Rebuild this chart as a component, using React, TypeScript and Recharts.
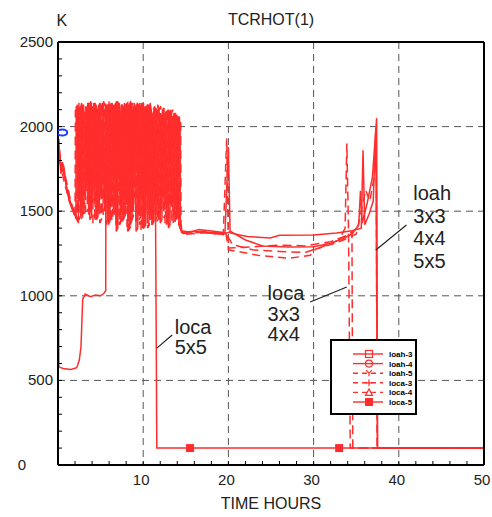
import {
  CartesianGrid,
  ComposedChart,
  Legend,
  Line,
  ReferenceDot,
  ReferenceLine,
  Scatter,
  XAxis,
  YAxis,
} from "recharts";

type Pt = [number, number];

const RED = "#ff2d2d";
const INK = "#222";
const FONT = "'Liberation Sans', Arial, sans-serif";

// time (hours), temperature (K)
const loah3: Pt[] = [
  [0, 1950], [0.2, 1830], [0.4, 1760], [0.8, 1700], [1.3, 1560], [1.9, 1480],
  [2.10, 1480], [2.14, 2120], [2.32, 2090], [2.36, 1600],
  [2.55, 1560], [2.59, 2100], [2.78, 2140], [2.82, 1470],
  [3.05, 1500], [3.09, 2060], [3.25, 1980], [3.29, 1700],
  [3.45, 1680], [3.49, 2140], [3.70, 2110], [3.74, 1450],
  [3.95, 1470], [3.99, 2080], [4.18, 2100], [4.22, 1620],
  [4.40, 1650], [4.44, 2130], [4.64, 2090], [4.68, 1500],
  [4.85, 1520], [4.89, 2110], [5.10, 2000], [5.14, 1750],
  [5.30, 1720], [5.34, 2150], [5.58, 2120], [5.62, 1420],
  [5.85, 1450], [5.89, 2090], [6.08, 2130], [6.12, 1580],
  [6.30, 1600], [6.34, 2140], [6.56, 2060], [6.60, 1480],
  [6.80, 1500], [6.84, 2100], [7.02, 2150], [7.06, 1700],
  [7.25, 1680], [7.29, 2050], [7.50, 2110], [7.54, 1440],
  [7.75, 1460], [7.79, 2140], [7.98, 2100], [8.02, 1600],
  [8.20, 1580], [8.24, 2120], [8.46, 2140], [8.50, 1420],
  [8.70, 1450], [8.74, 2080], [8.92, 2030], [8.96, 1750],
  [9.15, 1720], [9.19, 2130], [9.40, 2110], [9.44, 1480],
  [9.60, 1500], [9.64, 2100], [9.86, 2140], [9.90, 1400],
  [10.10, 1420], [10.14, 2070], [10.34, 2120], [10.38, 1620],
  [10.55, 1600], [10.59, 2120], [10.80, 2080], [10.84, 1450],
  [11.05, 1470], [11.09, 2050], [11.28, 2100], [11.32, 1550],
  [11.50, 1530], [11.54, 2100], [11.76, 2060], [11.80, 1480],
  [12.00, 1500], [12.04, 2080], [12.22, 2040], [12.26, 1600],
  [12.45, 1580], [12.49, 2060], [12.70, 2090], [12.74, 1420],
  [12.95, 1450], [12.99, 2100], [13.18, 2050], [13.22, 1550],
  [13.40, 1530], [13.44, 2040], [13.66, 2080], [13.70, 1480],
  [13.90, 1500], [13.94, 2070], [14.14, 2020], [14.18, 1420],
  [14.5, 1385], [15.5, 1375], [16.5, 1392], [17.5, 1386], [18.5, 1380], [19.6, 1372],
  [20.0, 1880], [20.2, 1372], [22.2, 1350], [24.9, 1342], [26, 1358], [30, 1360], [32.7, 1371],
  [34.5, 1385], [35.6, 1400], [35.8, 1860], [36.0, 1420], [36.5, 1480], [37.0, 1560],
  [37.3, 1990], [37.5, 100], [50, 100],
];

const loah4: Pt[] = [
  [0, 1950], [0.2, 1810], [0.35, 1720], [0.5, 1790], [0.7, 1760], [1.0, 1640], [1.5, 1540],
  [2.0, 1500], [2.4, 1430],
  [2.45, 2090], [2.62, 2120], [2.66, 1500],
  [2.85, 1520], [2.89, 2130], [3.08, 2080], [3.12, 1650],
  [3.30, 1620], [3.34, 2100], [3.55, 2140], [3.59, 1480],
  [3.78, 1500], [3.82, 2150], [4.00, 2090], [4.04, 1550],
  [4.25, 1580], [4.29, 2080], [4.48, 2120], [4.52, 1450],
  [4.70, 1470], [4.74, 2120], [4.95, 2140], [4.99, 1600],
  [5.15, 1630], [5.19, 2140], [5.40, 2060], [5.44, 1500],
  [5.62, 1520], [5.66, 2100], [5.86, 2130], [5.90, 1420],
  [6.10, 1440], [6.14, 2130], [6.32, 2100], [6.36, 1700],
  [6.55, 1680], [6.59, 2090], [6.80, 2140], [6.84, 1380],
  [7.02, 1400], [7.06, 2140], [7.26, 2120], [7.30, 1500],
  [7.48, 1520], [7.52, 2100], [7.72, 2050], [7.76, 1650],
  [7.95, 1620], [7.99, 2130], [8.18, 2140], [8.22, 1440],
  [8.42, 1460], [8.46, 2090], [8.68, 2120], [8.72, 1560],
  [8.90, 1540], [8.94, 2140], [9.12, 2080], [9.16, 1380],
  [9.36, 1400], [9.40, 2110], [9.62, 2140], [9.66, 1600],
  [9.85, 1580], [9.89, 2130], [10.08, 2090], [10.12, 1460],
  [10.32, 1480], [10.36, 2100], [10.56, 2130], [10.60, 1700],
  [10.78, 1680], [10.82, 2140], [11.02, 2070], [11.06, 1420],
  [11.25, 1440], [11.29, 2080], [11.48, 2110], [11.52, 1600],
  [11.72, 1580], [11.76, 2120], [11.96, 2060], [12.00, 1430],
  [12.20, 1450], [12.24, 2090], [12.44, 2110], [12.48, 1560],
  [12.68, 1540], [12.72, 2060], [12.92, 2100], [12.96, 1400],
  [13.15, 1420], [13.19, 2090], [13.38, 2040], [13.42, 1580],
  [13.62, 1560], [13.66, 2080], [13.86, 2050], [13.90, 1450],
  [14.10, 1470], [14.14, 2060], [14.32, 2010], [14.36, 1400],
  [14.5, 1375], [16, 1382], [18, 1372], [19.5, 1366], [20.3, 1380], [22, 1330], [24, 1295],
  [27, 1288], [30, 1290], [32, 1310], [33.5, 1340], [34.5, 1365], [35.3, 1420], [35.5, 1620],
  [35.7, 1430], [36.3, 1550], [36.9, 1700], [37.4, 2050], [37.5, 100], [50, 100],
];

const loah5: Pt[] = [
  [0, 1950], [0.25, 1790], [0.6, 1700], [1.1, 1600], [1.7, 1520], [2.1, 1460],
  [2.22, 1470], [2.26, 2130], [2.44, 2100], [2.48, 1450],
  [2.70, 1480], [2.74, 2080], [2.94, 2120], [2.98, 1560],
  [3.18, 1540], [3.22, 2120], [3.40, 2060], [3.44, 1500],
  [3.62, 1520], [3.66, 2140], [3.86, 2110], [3.90, 1600],
  [4.08, 1630], [4.12, 2090], [4.32, 2140], [4.36, 1450],
  [4.55, 1470], [4.59, 2100], [4.78, 2060], [4.82, 1650],
  [5.02, 1620], [5.06, 2130], [5.26, 2100], [5.30, 1480],
  [5.48, 1500], [5.52, 2090], [5.72, 2130], [5.76, 1560],
  [5.95, 1540], [5.99, 2150], [6.18, 2100], [6.22, 1450],
  [6.42, 1470], [6.46, 2110], [6.66, 2140], [6.70, 1620],
  [6.88, 1600], [6.92, 2140], [7.12, 2080], [7.16, 1420],
  [7.35, 1440], [7.39, 2080], [7.58, 2130], [7.62, 1550],
  [7.82, 1530], [7.86, 2130], [8.06, 2100], [8.10, 1380],
  [8.30, 1400], [8.34, 2100], [8.54, 2150], [8.58, 1520],
  [8.78, 1500], [8.82, 2130], [9.02, 2090], [9.06, 1650],
  [9.25, 1620], [9.29, 2140], [9.50, 2120], [9.54, 1450],
  [9.72, 1470], [9.76, 2090], [9.96, 2140], [10.00, 1560],
  [10.20, 1540], [10.24, 2120], [10.44, 2080], [10.48, 1400],
  [10.66, 1420], [10.70, 2130], [10.90, 2100], [10.94, 1580],
  [11.12, 1560], [11.16, 2100], [11.36, 2120], [11.40, 1480],
  [11.60, 1500], [11.64, 2110], [11.84, 2060], [11.88, 1450],
  [12.08, 1470], [12.12, 2050], [12.32, 2100], [12.36, 1520],
  [12.55, 1500], [12.59, 2080], [12.78, 2040], [12.82, 1440],
  [13.02, 1460], [13.06, 2070], [13.26, 2100], [13.30, 1520],
  [13.48, 1500], [13.52, 2060], [13.72, 2030], [13.76, 1440],
  [13.96, 1460], [14.00, 2040], [14.20, 2070], [14.24, 1420],
  [14.5, 1368], [17, 1375], [19.4, 1362], [19.8, 1930], [20.0, 1272], [23.4, 1240], [27.2, 1222],
  [29.6, 1240], [30.2, 1275], [32.5, 1310], [34, 1340], [35, 1365], [35.6, 1500], [36.1, 1625],
  [36.6, 1560], [37.1, 1700], [37.35, 1980], [37.45, 100], [50, 100],
];

const loca3: Pt[] = [
  [0, 1950], [0.3, 1770], [0.9, 1680], [1.6, 1530], [2.3, 1440],
  [2.34, 2110], [2.52, 2080], [2.56, 1620],
  [2.76, 1600], [2.80, 2090], [3.00, 2130], [3.04, 1480],
  [3.24, 1500], [3.28, 2130], [3.46, 2100], [3.50, 1550],
  [3.70, 1530], [3.74, 2100], [3.94, 2140], [3.98, 1700],
  [4.16, 1680], [4.20, 2140], [4.40, 2090], [4.44, 1500],
  [4.62, 1520], [4.66, 2080], [4.86, 2120], [4.90, 1430],
  [5.10, 1450], [5.14, 2120], [5.32, 2140], [5.36, 1580],
  [5.55, 1560], [5.59, 2140], [5.78, 2080], [5.82, 1500],
  [6.02, 1520], [6.06, 2090], [6.26, 2130], [6.30, 1450],
  [6.50, 1470], [6.54, 2130], [6.72, 2100], [6.76, 1650],
  [6.95, 1620], [6.99, 2100], [7.20, 2140], [7.24, 1420],
  [7.42, 1440], [7.46, 2140], [7.66, 2090], [7.70, 1580],
  [7.88, 1560], [7.92, 2090], [8.12, 2120], [8.16, 1500],
  [8.36, 1520], [8.40, 2130], [8.60, 2140], [8.64, 1450],
  [8.84, 1470], [8.88, 2100], [9.08, 2060], [9.12, 1650],
  [9.30, 1630], [9.34, 2120], [9.54, 2100], [9.58, 1420],
  [9.78, 1440], [9.82, 2140], [10.02, 2120], [10.06, 1560],
  [10.25, 1540], [10.29, 2090], [10.48, 2130], [10.52, 1400],
  [10.72, 1420], [10.76, 2120], [10.96, 2080], [11.00, 1600],
  [11.18, 1580], [11.22, 2090], [11.42, 2110], [11.46, 1450],
  [11.66, 1470], [11.70, 2130], [11.90, 2080], [11.94, 1520],
  [12.14, 1500], [12.18, 2080], [12.38, 2110], [12.42, 1460],
  [12.62, 1480], [12.66, 2100], [12.86, 2060], [12.90, 1550],
  [13.08, 1530], [13.12, 2080], [13.32, 2100], [13.36, 1440],
  [13.56, 1460], [13.60, 2050], [13.80, 2080], [13.84, 1520],
  [14.02, 1500], [14.06, 2030], [14.26, 2060], [14.30, 1450],
  [14.6, 1362], [17, 1372], [19.8, 1362], [20.5, 1302], [23, 1270], [26, 1262], [29, 1256],
  [31, 1290], [33, 1330], [33.7, 1400], [33.9, 1900], [34.1, 1385], [34.3, 100], [50, 100],
];

const loca4: Pt[] = [
  [0, 1950], [0.3, 1800], [0.8, 1720], [1.4, 1580], [2.0, 1470],
  [2.04, 2100], [2.20, 2070], [2.24, 1500],
  [2.42, 1520], [2.46, 2140], [2.64, 2110], [2.68, 1450],
  [2.88, 1470], [2.92, 2100], [3.12, 2060], [3.16, 1680],
  [3.36, 1660], [3.40, 2120], [3.60, 2140], [3.64, 1500],
  [3.84, 1520], [3.88, 2090], [4.06, 2120], [4.10, 1430],
  [4.30, 1450], [4.34, 2140], [4.54, 2100], [4.58, 1600],
  [4.76, 1580], [4.80, 2100], [5.00, 2140], [5.04, 1480],
  [5.22, 1500], [5.26, 2130], [5.46, 2090], [5.50, 1700],
  [5.70, 1680], [5.74, 2090], [5.94, 2130], [5.98, 1440],
  [6.18, 1460], [6.22, 2140], [6.40, 2100], [6.44, 1520],
  [6.64, 1540], [6.68, 2110], [6.88, 2150], [6.92, 1600],
  [7.10, 1580], [7.14, 2130], [7.34, 2080], [7.38, 1440],
  [7.58, 1460], [7.62, 2090], [7.82, 2130], [7.86, 1520],
  [8.06, 1500], [8.10, 2140], [8.28, 2100], [8.32, 1390],
  [8.52, 1410], [8.56, 2110], [8.76, 2140], [8.80, 1600],
  [8.98, 1580], [9.02, 2130], [9.22, 2090], [9.26, 1480],
  [9.46, 1500], [9.50, 2100], [9.70, 2130], [9.74, 1390],
  [9.92, 1410], [9.96, 2140], [10.16, 2100], [10.20, 1620],
  [10.40, 1600], [10.44, 2110], [10.64, 2140], [10.68, 1450],
  [10.86, 1470], [10.90, 2090], [11.10, 2050], [11.14, 1550],
  [11.34, 1530], [11.38, 2120], [11.58, 2090], [11.62, 1440],
  [11.82, 1460], [11.86, 2100], [12.06, 2120], [12.10, 1580],
  [12.28, 1560], [12.32, 2090], [12.52, 2050], [12.56, 1430],
  [12.76, 1450], [12.80, 2110], [13.00, 2080], [13.04, 1560],
  [13.24, 1540], [13.28, 2070], [13.48, 2100], [13.52, 1420],
  [13.72, 1440], [13.76, 2070], [13.96, 2030], [14.00, 1500],
  [14.18, 1480], [14.22, 2050], [14.40, 2020], [14.44, 1420],
  [14.6, 1372], [17, 1382], [19.7, 1370], [20.0, 1282], [23, 1290], [26, 1300], [29, 1295],
  [32, 1320], [34, 1358], [34.5, 1380], [34.6, 100], [50, 100],
];

const loca5: Pt[] = [
  [0, 1950], [0.1, 580], [0.6, 570], [1.5, 565], [2.2, 575], [2.5, 620], [2.7, 700], [2.9, 980],
  [3.2, 1010], [3.8, 995], [4.4, 1005], [5.0, 1000], [5.4, 1015], [5.6, 1030],
  [5.64, 2100], [5.82, 2080], [5.86, 1480],
  [6.04, 1500], [6.08, 2130], [6.28, 2110], [6.32, 1550],
  [6.52, 1530], [6.56, 2110], [6.76, 2140], [6.80, 1420],
  [6.98, 1440], [7.02, 2140], [7.22, 2090], [7.26, 1600],
  [7.46, 1580], [7.50, 2090], [7.70, 2120], [7.74, 1460],
  [7.92, 1480], [7.96, 2120], [8.16, 2100], [8.20, 1380],
  [8.40, 1400], [8.44, 2100], [8.64, 2140], [8.68, 1520],
  [8.86, 1500], [8.90, 2080], [9.10, 2110], [9.14, 1440],
  [9.34, 1460], [9.38, 2130], [9.58, 2080], [9.62, 1600],
  [9.80, 1580], [9.84, 2110], [10.04, 2140], [10.08, 1400],
  [10.28, 1420], [10.32, 2090], [10.52, 2120], [10.56, 1520],
  [10.74, 1500], [10.78, 2080], [10.98, 2050], [11.02, 1420],
  [11.22, 1440], [11.26, 2060], [11.42, 2030], [11.46, 1380],
  [11.6, 100], [15.5, 100], [33, 100], [50, 100],
];
const loca5Marks = [15.5, 33];

const startMark: Pt[] = [[0.5, 1965]];

const xTicks = [0, 2, 4, 6, 8, 10, 12, 14, 16, 18, 20, 22, 24, 26, 28, 30, 32, 34, 36, 38, 40, 42, 44, 46, 48, 50];
const yTicks = [
  0, 100, 200, 300, 400, 500, 600, 700, 800, 900, 1000, 1100, 1200, 1300, 1400, 1500, 1600,
  1700, 1800, 1900, 2000, 2100, 2200, 2300, 2400, 2500,
];
const xGrid = [10, 20, 30, 40];
const yGrid = [500, 1000, 1500, 2000];

const notes = [
  { t: 41.7, v: 1566, lines: ["loah", "3x3", "4x4", "5x5"], gap: 22.5 },
  { t: 24.6, v: 975, lines: ["loca", "3x3", "4x4"], gap: 20.5 },
  { t: 13.7, v: 774, lines: ["loca", "5x5"], gap: 20 },
];
const leaders: [Pt, Pt][] = [
  [[37.3, 1271], [40.9, 1418]],
  [[29.6, 963], [33.9, 1052]],
  [[11.6, 691], [13.4, 768]],
];

const SERIES = [
  { name: "loah-3", data: loah3, dash: undefined, mark: "square" },
  { name: "loah-4", data: loah4, dash: undefined, mark: "circle" },
  { name: "loah-5", data: loah5, dash: "8 5", mark: "wye" },
  { name: "loca-3", data: loca3, dash: "9 5", mark: "plus" },
  { name: "loca-4", data: loca4, dash: "9 5", mark: "triangle" },
  { name: "loca-5", data: loca5, dash: undefined, mark: "filled" },
];

const rows = (pts: Pt[]) => pts.map(([t, v]) => ({ t, v }));

function BottomTick({ x, y, payload }: any) {
  const v = payload.value;
  return (
    <g>
      <line x1={x} x2={x} y1={y} y2={y - 4} stroke="#000" />
      {v % 10 === 0 && v !== 0 && (
        <text x={x - 2} y={y + 20} textAnchor="middle" fontSize={15} fontFamily={FONT} fill={INK}>
          {v}
        </text>
      )}
    </g>
  );
}

function TopTick({ x, y }: any) {
  return <line x1={x} x2={x} y1={y} y2={y + 4} stroke="#000" />;
}

function LeftTick({ x, y, payload }: any) {
  const v = payload.value;
  return (
    <g>
      <line x1={x} x2={x + 4} y1={y} y2={y} stroke="#000" />
      {v % 500 === 0 && (
        <text
          x={v === 0 ? 22 : x - 5}
          y={y + 5}
          textAnchor={v === 0 ? "middle" : "end"}
          fontSize={15}
          fontFamily={FONT}
          fill={INK}
        >
          {v}
        </text>
      )}
    </g>
  );
}

function RightTick({ x, y }: any) {
  return <line x1={x} x2={x - 4} y1={y} y2={y} stroke="#000" />;
}

function Loca5Dot(p: any) {
  const { cx, cy, payload, index } = p;
  if (!loca5Marks.includes(payload.t)) return <g key={index} />;
  return <rect key={index} x={cx - 4} y={cy - 4} width={8} height={8} fill={RED} />;
}

function BlueRing(p: any) {
  return <ellipse cx={p.cx} cy={p.cy} rx={5} ry={3} fill="none" stroke="#1a3cff" strokeWidth={2} />;
}

function NoteText({ viewBox, lines, gap }: any) {
  const { x, y } = viewBox;
  return (
    <text x={x} y={y} fontSize={20} fontFamily={FONT} fill={INK}>
      {lines.map((l: string, i: number) => (
        <tspan key={l + i} x={x} dy={i === 0 ? 0 : gap}>
          {l}
        </tspan>
      ))}
    </text>
  );
}

function Marker({ kind, x, y }: { kind: string; x: number; y: number }) {
  const s = { fill: "none", stroke: RED, strokeWidth: 1.2 };
  if (kind === "square") return <rect x={x - 3.5} y={y - 3.5} width={7} height={7} {...s} />;
  if (kind === "circle") return <circle cx={x} cy={y} r={3.5} {...s} />;
  if (kind === "wye") return <path d={`M${x - 3},${y - 3} L${x},${y} L${x + 3},${y - 3} M${x},${y} L${x},${y + 3}`} {...s} />;
  if (kind === "plus") return <path d={`M${x - 3.5},${y} H${x + 3.5} M${x},${y - 3.5} V${y + 3.5}`} {...s} />;
  if (kind === "triangle") return <path d={`M${x},${y - 3.5} L${x + 3.5},${y + 3} L${x - 3.5},${y + 3} Z`} {...s} />;
  return <rect x={x - 4} y={y - 4} width={8} height={8} fill={RED} />;
}

function LegendBox() {
  return (
    <svg width={87} height={76} style={{ display: "block" }}>
      <rect x={1} y={1} width={85} height={74} fill="#fff" stroke="#000" strokeWidth={2} />
      {SERIES.map((s, i) => {
        const y = 15 + i * 9.6;
        return (
          <g key={s.name}>
            <line x1={23} x2={53} y1={y} y2={y} stroke={RED} strokeWidth={1.4} strokeDasharray={s.dash ? "5 4" : undefined} />
            <Marker kind={s.mark} x={39} y={y} />
            <text x={59} y={y + 3} fontSize={8} fontWeight="bold" fontFamily={FONT} fill="#000">
              {s.name}
            </text>
          </g>
        );
      })}
    </svg>
  );
}

export default function App() {
  return (
    <div style={{ position: "absolute", left: 0, top: 0, background: "#fff" }}>
      <ComposedChart width={492} height={517} margin={{ top: 0, right: 0, bottom: 0, left: 0 }}>
        <CartesianGrid
          verticalValues={xGrid}
          horizontalValues={yGrid}
          stroke="#555"
          strokeDasharray="7 5"
        />
        <XAxis
          dataKey="t"
          type="number"
          domain={[0, 50]}
          ticks={xTicks}
          interval={0}
          height={52}
          tickSize={0}
          tickMargin={0}
          tickLine={false}
          tick={<BottomTick />}
          axisLine={{ stroke: "#000", strokeWidth: 2 }}
          allowDataOverflow
          label={{ value: "TIME HOURS", position: "insideBottom", offset: 8, fill: INK, fontSize: 16, fontFamily: FONT }}
        />
        <XAxis
          xAxisId="top"
          orientation="top"
          type="number"
          domain={[0, 50]}
          ticks={xTicks}
          interval={0}
          height={42}
          tickSize={0}
          tickMargin={0}
          tickLine={false}
          tick={<TopTick />}
          axisLine={{ stroke: "#000", strokeWidth: 2 }}
          label={{ value: "TCRHOT(1)", position: "insideTop", offset: 14, fill: INK, fontSize: 16, fontFamily: FONT }}
        />
        <YAxis
          type="number"
          domain={[0, 2500]}
          ticks={yTicks}
          interval={0}
          width={58}
          tickSize={0}
          tickMargin={0}
          tickLine={false}
          tick={<LeftTick />}
          axisLine={{ stroke: "#000", strokeWidth: 2 }}
          allowDataOverflow
        />
        <YAxis
          yAxisId="right"
          orientation="right"
          type="number"
          domain={[0, 2500]}
          ticks={yTicks}
          interval={0}
          width={8}
          tickSize={0}
          tickMargin={0}
          tickLine={false}
          tick={<RightTick />}
          axisLine={{ stroke: "#000", strokeWidth: 2 }}
        />
        {SERIES.map((s) => (
          <Line
            key={s.name}
            name={s.name}
            data={rows(s.data)}
            dataKey="v"
            type="linear"
            stroke={RED}
            strokeWidth={1.5}
            strokeDasharray={s.dash}
            dot={s.name === "loca-5" ? Loca5Dot : false}
            activeDot={false}
            isAnimationActive={false}
          />
        ))}
        <Scatter data={rows(startMark)} dataKey="v" shape={BlueRing} legendType="none" isAnimationActive={false} />
        {leaders.map(([a, b], i) => (
          <ReferenceLine
            key={i}
            segment={[{ x: a[0], y: a[1] }, { x: b[0], y: b[1] }]}
            stroke={INK}
            strokeWidth={1.2}
            ifOverflow="visible"
          />
        ))}
        {notes.map((n) => (
          <ReferenceDot
            key={n.t}
            x={n.t}
            y={n.v}
            r={0}
            fill="none"
            stroke="none"
            ifOverflow="visible"
            label={(p: any) => <NoteText {...p} lines={n.lines} gap={n.gap} />}
          />
        ))}
        <ReferenceDot
          x={0.45}
          y={2630}
          r={0}
          fill="none"
          stroke="none"
          ifOverflow="visible"
          label={{ value: "K", position: "center", fill: INK, fontSize: 16, fontFamily: FONT }}
        />
        <Legend
          layout="vertical"
          align="center"
          verticalAlign="middle"
          wrapperStyle={{ left: 330, top: 339, width: 87, height: 76 }}
          content={<LegendBox />}
        />
      </ComposedChart>
    </div>
  );
}
